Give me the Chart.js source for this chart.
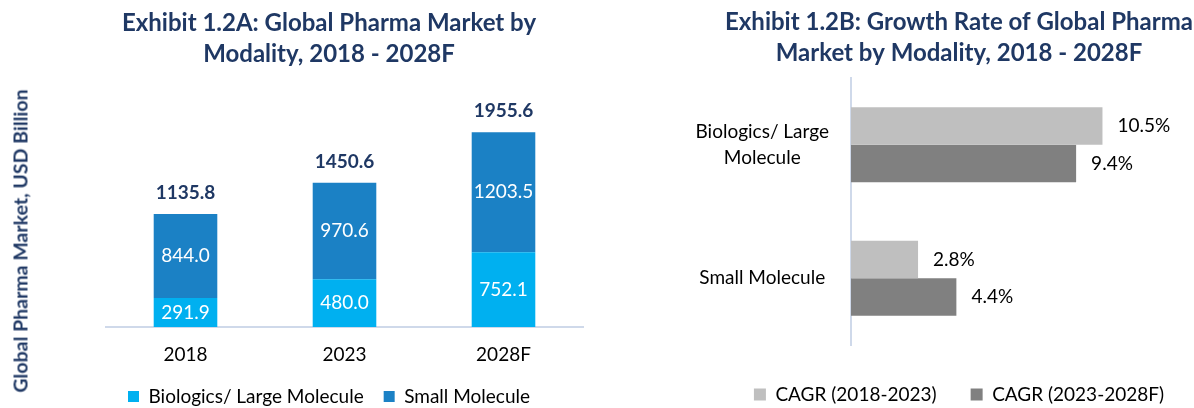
<!DOCTYPE html>
<html>
<head>
<meta charset="utf-8">
<title>Global Pharma Market by Modality</title>
<script src="https://cdn.jsdelivr.net/npm/chart.js@4.4.1/dist/chart.umd.min.js"></script>
<style>
    html, body { margin: 0; padding: 0; background: #fff; overflow: hidden; }
    body { width: 1194px; height: 408px; position: relative; font-family: Lato, sans-serif; }
    .panel { position: absolute; top: 0; }
    #left-panel { left: 0; }
    #right-panel { left: 597px; }
    .y-title {
        position: absolute; left: 20px; top: 241px;
        transform: translate(-50%, -50%) rotate(-90deg);
        font: bold 19.5px Lato, sans-serif; color: #1F3864; white-space: nowrap;
    }
</style>
</head>
<body>
<div class="panel" id="left-panel"><canvas id="marketChart" width="597" height="416"></canvas></div>
<!-- right canvas is a bit wider than the window so its title centres where the original does -->
<div class="panel" id="right-panel"><canvas id="growthChart" width="640" height="414"></canvas></div>
<div class="y-title">Global Pharma Market, USD Billion</div>

<script>
// Exhibit 1.2A - market size, USD Billion
const years = ['2018', '2023', '2028F'];
const biologicsValues = [291.9, 480.0, 752.1];
const smallMoleculeValues = [844.0, 970.6, 1203.5];
const marketTotals = [1135.8, 1450.6, 1955.6];

// Exhibit 1.2B - CAGR, %
const modalities = [['Biologics/ Large', 'Molecule'], 'Small Molecule'];
const cagrEarly = [10.5, 2.8];   // 2018-2023
const cagrLate = [9.4, 4.4];     // 2023-2028F

const NAVY = '#1F3864';
const CYAN = '#00B0F0';
const BLUE = '#1B81C5';
const LIGHT_GREY = '#BFBFBF';
const DARK_GREY = '#808080';
const AXIS_LINE = '#CFD9EA';

const titleFont = { family: 'Lato', size: 24, weight: 'bold', lineHeight: 1.28 };
const labelFont = { family: 'Lato', size: 19 };

// values inside the stacked bars + totals on top
const stackLabels = {
    id: 'stackLabels',
    afterDatasetsDraw(chart) {
        const ctx = chart.ctx;
        ctx.save();
        ctx.textAlign = 'center';
        ctx.textBaseline = 'middle';
        ctx.font = '19px Lato';
        ctx.fillStyle = '#FFFFFF';
        chart.data.datasets.forEach((ds, i) => {
            chart.getDatasetMeta(i).data.forEach((bar, j) => {
                ctx.fillText(ds.data[j].toFixed(1), bar.x, (bar.y + bar.base) / 2);
            });
        });
        const topMeta = chart.getDatasetMeta(chart.data.datasets.length - 1);
        ctx.font = 'bold 19px Lato';
        ctx.fillStyle = NAVY;
        topMeta.data.forEach((bar, j) => {
            ctx.fillText(marketTotals[j].toFixed(1), bar.x, bar.y - 21);
        });
        ctx.restore();
    }
};

// percentage labels at the end of horizontal bars
const endLabels = {
    id: 'endLabels',
    afterDatasetsDraw(chart) {
        const ctx = chart.ctx;
        ctx.save();
        ctx.textAlign = 'left';
        ctx.textBaseline = 'middle';
        ctx.font = '19px Lato';
        ctx.fillStyle = '#000000';
        chart.data.datasets.forEach((ds, i) => {
            chart.getDatasetMeta(i).data.forEach((bar, j) => {
                ctx.fillText(ds.data[j].toFixed(1) + '%', bar.x + 15, bar.y);
            });
        });
        ctx.restore();
    }
};

new Chart(document.getElementById('marketChart'), {
    type: 'bar',
    data: {
        labels: years,
        datasets: [
            { label: 'Biologics/ Large Molecule', data: biologicsValues, backgroundColor: CYAN },
            { label: 'Small Molecule', data: smallMoleculeValues, backgroundColor: BLUE }
        ]
    },
    options: {
        responsive: false,
        animation: false,
        barPercentage: 0.4,
        categoryPercentage: 1,
        layout: { padding: { left: 75, right: 14, top: 0, bottom: 0 } },
        plugins: {
            title: {
                display: true,
                text: ['Exhibit 1.2A: Global Pharma Market by', 'Modality, 2018 - 2028F'],
                color: NAVY,
                font: titleFont,
                padding: { top: 8, bottom: 38.6 }
            },
            legend: {
                position: 'bottom',
                labels: { boxWidth: 11, boxHeight: 11, padding: 20, color: '#000', font: labelFont }
            },
            tooltip: { enabled: false }
        },
        scales: {
            x: {
                stacked: true,
                grid: { display: false, drawTicks: false },
                border: { color: AXIS_LINE, width: 2 },
                ticks: { color: '#000', padding: 16, font: labelFont },
                afterFit: (scale) => { scale.height = 40; }
            },
            y: {
                stacked: true,
                min: 0,
                max: 2200,
                grid: { display: false, drawTicks: false },
                border: { display: false },
                ticks: { display: false },
                afterFit: (scale) => { scale.width = 31; }
            }
        }
    },
    plugins: [stackLabels]
});

new Chart(document.getElementById('growthChart'), {
    type: 'bar',
    data: {
        labels: modalities,
        datasets: [
            { label: 'CAGR (2018-2023)', data: cagrEarly, backgroundColor: LIGHT_GREY },
            { label: 'CAGR (2023-2028F)', data: cagrLate, backgroundColor: DARK_GREY }
        ]
    },
    options: {
        responsive: false,
        animation: false,
        indexAxis: 'y',
        barPercentage: 1,
        categoryPercentage: 0.563,
        layout: { padding: { left: 94, right: 10, top: 0, bottom: 0 } },
        plugins: {
            title: {
                display: true,
                text: ['Exhibit 1.2B: Growth Rate of Global Pharma', 'Market by Modality, 2018 - 2028F'],
                color: NAVY,
                font: titleFont,
                padding: { top: 7, bottom: 9.6 }
            },
            legend: {
                position: 'bottom',
                labels: { boxWidth: 12, boxHeight: 12, padding: 34, color: '#000', font: labelFont }
            },
            tooltip: { enabled: false }
        },
        scales: {
            y: {
                grid: { display: false, drawTicks: false },
                border: { color: AXIS_LINE, width: 2 },
                ticks: {
                    color: '#000',
                    crossAlign: 'center',
                    padding: 22,
                    font: { family: 'Lato', size: 19, lineHeight: 1.37 }
                },
                afterFit: (scale) => { scale.width = 160; }
            },
            x: {
                min: 0,
                max: 15.7,
                grid: { display: false, drawTicks: false },
                border: { display: false },
                ticks: { display: false },
                afterFit: (scale) => { scale.height = 6; }
            }
        }
    },
    plugins: [endLabels]
});
</script>
</body>
</html>
